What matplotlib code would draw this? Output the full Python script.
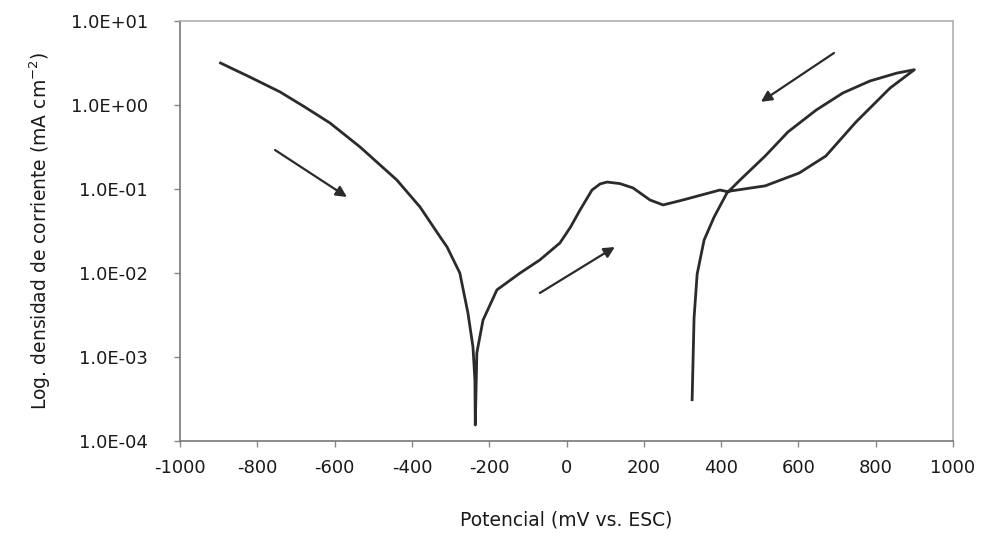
import matplotlib
matplotlib.use("Agg")
import matplotlib.pyplot as plt
from matplotlib.ticker import FixedLocator, FuncFormatter, NullLocator

plt.rcParams["font.family"] = "DejaVu Sans"
plt.rcParams["axes.unicode_minus"] = False

# forward scan: cathodic branch -> Ecorr -> active peak -> passive -> pitting
fwd_mv = [-895, -819, -741, -677, -612, -534, -488, -439, -379, -327, -309, -276, -255,
          -242, -237, -236, -232, -216, -180, -120, -69, -17, 10, 35, 66, 87, 105, 138,
          172, 216, 250, 301, 397, 415, 514, 602, 671, 749, 837, 900]
fwd_ma = [3.16, 2.15, 1.43, 0.946, 0.611, 0.316, 0.204, 0.128, 0.0611, 0.0269, 0.0204,
          0.0100, 3.34e-3, 1.32e-3, 5.3e-4, 1.55e-4, 1.12e-3, 2.75e-3, 6.3e-3, 0.0100,
          0.0143, 0.0228, 0.0350, 0.0562, 0.0973, 0.115, 0.121, 0.116, 0.103, 0.0740,
          0.0646, 0.0740, 0.0973, 0.0933, 0.109, 0.155, 0.247, 0.628, 1.59, 2.63]

# reverse scan back to the repassivation potential
rev_mv = [855, 785, 715, 646, 573, 514, 452, 415, 382, 356, 338, 330, 325]
rev_ma = [2.40, 1.93, 1.39, 0.871, 0.478, 0.247, 0.132, 0.0895, 0.0465, 0.0247,
          9.7e-3, 2.9e-3, 3.1e-4]

# scan direction arrows (tail, head)
arrows = [((-754, 0.291), (-568, 0.0804)),
          ((-69, 5.78e-3), (125, 0.0204)),
          ((692, 4.16), (503, 1.09))]

x_ticks = list(range(-1000, 1001, 200))
y_ticks = [1e-4, 1e-3, 1e-2, 1e-1, 1e0, 1e1]

fig = plt.figure(figsize=(9.83, 5.41), dpi=100)
ax = fig.add_axes([0.1831, 0.1848, 0.7864, 0.7764])

ax.plot(fwd_mv + rev_mv, fwd_ma + rev_ma, color="#2b2b2b", lw=2.0,
        solid_joinstyle="round")

for tail, head in arrows:
    ax.annotate("", xy=head, xytext=tail,
                arrowprops=dict(arrowstyle="-|>", color="#2b2b2b", lw=1.6,
                                mutation_scale=16, shrinkA=0, shrinkB=0))

ax.set_yscale("log")
ax.set_xlim(-1000, 1000)
ax.set_ylim(1e-4, 1e1)
ax.xaxis.set_major_locator(FixedLocator(x_ticks))
ax.yaxis.set_major_locator(FixedLocator(y_ticks))
ax.yaxis.set_minor_locator(NullLocator())
ax.yaxis.set_major_formatter(FuncFormatter(lambda v, p: f"{v:.1E}"))
ax.xaxis.set_major_formatter(FuncFormatter(lambda v, p: f"{int(v)}"))

ax.tick_params(axis="both", direction="out", length=4, width=1, color="#888888",
               labelsize=13, labelcolor="#1a1a1a")
ax.tick_params(axis="y", pad=19)
ax.tick_params(axis="x", pad=9)

for side in ["left", "bottom"]:
    ax.spines[side].set_color("#777777")
    ax.spines[side].set_linewidth(1.2)
for side in ["top", "right"]:
    ax.spines[side].set_color("#b0b0b0")
    ax.spines[side].set_linewidth(1.2)

ax.set_xlabel("Potencial (mV vs. ESC)", fontsize=13.5, color="#1a1a1a", labelpad=24)
ax.set_ylabel("Log. densidad de corriente (mA cm$^{-2}$)", fontsize=13.5,
              color="#1a1a1a", labelpad=13)

fig.savefig("out.png", dpi=100, facecolor="white")
